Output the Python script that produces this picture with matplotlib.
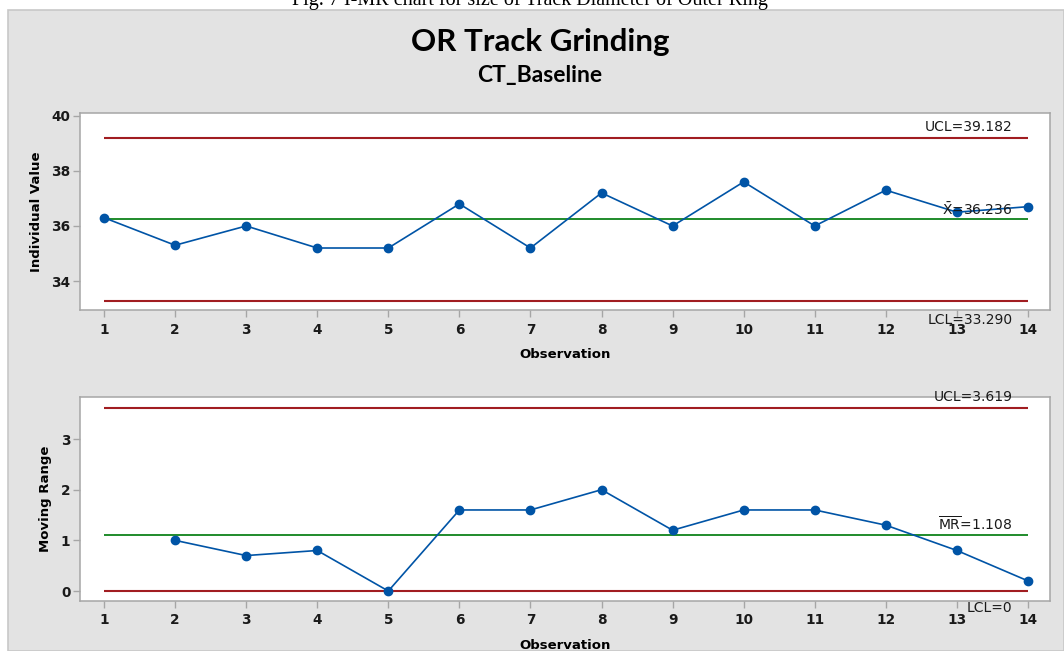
import matplotlib
matplotlib.use("Agg")
import matplotlib.pyplot as plt
from matplotlib.patches import Rectangle

# Track diameter readings (I chart) and their moving ranges (MR chart)
observations = list(range(1, 15))
individual_values = [36.3, 35.3, 36.0, 35.2, 35.2, 36.8, 35.2, 37.2, 36.0, 37.6, 36.0, 37.3, 36.5, 36.7]
mr_observations = list(range(2, 15))
moving_ranges = [1.0, 0.7, 0.8, 0.0, 1.6, 1.6, 2.0, 1.2, 1.6, 1.6, 1.3, 0.8, 0.2]

# Control limits
i_ucl, i_mean, i_lcl = 39.182, 36.236, 33.290
mr_ucl, mr_mean, mr_lcl = 3.619, 1.108, 0.0

i_yticks = [34, 36, 38, 40]
mr_yticks = [0, 1, 2, 3]

caption = "Fig. 7 I-MR chart for size of Track Diameter of Outer Ring"
title = "OR Track Grinding"
subtitle = "CT_Baseline"

RED = "#a11d21"
GREEN = "#1f8b2b"
BLUE = "#0054a6"
SPINE = "#a6a6a6"
PANEL = "#e3e3e3"

W, H = 1064, 651
fig = plt.figure(figsize=(W / 100, H / 100), dpi=100)
fig.patch.set_facecolor("white")

# grey worksheet panel behind both charts
fig.add_artist(Rectangle((8 / W, 0), 1 - 8 / W, 1 - 10 / H, transform=fig.transFigure,
                         facecolor=PANEL, edgecolor="#c8c8c8", linewidth=1.2, zorder=0))

fig.text(530 / W, 1 - 5 / H, caption, family="Liberation Serif", fontsize=14.5,
         ha="center", va="baseline")
fig.text(540 / W, 1 - 51 / H, title, family="Lato", fontweight="bold", fontsize=22.5,
         ha="center", va="baseline")
fig.text(540 / W, 1 - 82 / H, subtitle, family="Lato", fontweight="bold", fontsize=16.5,
         ha="center", va="baseline")


def px_axes(left, top, right, bottom):
    return fig.add_axes([left / W, 1 - bottom / H, (right - left) / W, (bottom - top) / H])


def style_axes(ax, yticks, ylabel):
    ax.set_facecolor("white")
    for s in ax.spines.values():
        s.set_color(SPINE)
        s.set_linewidth(1.1)
    ax.set_xticks(observations)
    ax.set_yticks(yticks)
    ax.tick_params(axis="both", colors=SPINE, length=5, width=1.0, labelcolor="#1a1a1a",
                   labelsize=9.8)
    ax.tick_params(axis="x", pad=4)
    ax.tick_params(axis="y", pad=2)
    for lbl in ax.get_xticklabels() + ax.get_yticklabels():
        lbl.set_fontweight("bold")
    ax.set_xlabel("Observation", fontsize=9.5, fontweight="bold", labelpad=8)
    ax.set_ylabel(ylabel, fontsize=9.5, fontweight="bold", labelpad=6)
    ax.set_xlim(0.662, 14.31)


def limit_label(ax, y, text, dy):
    ax.annotate(text, xy=(13.78, y), xytext=(0, dy), textcoords="offset points",
                ha="right", va="baseline", fontsize=10, color="#1a1a1a", zorder=10)


# Individual value chart
ax1 = px_axes(80, 113, 1050, 310)
style_axes(ax1, i_yticks, "Individual Value")
ax1.set_ylim(32.95, 40.1)
ax1.hlines([i_ucl, i_lcl], 1, 14, colors=RED, linewidth=1.5, zorder=2)
ax1.hlines(i_mean, 1, 14, colors=GREEN, linewidth=1.4, zorder=2)
ax1.plot(observations, individual_values, color=BLUE, linewidth=1.2, marker="o",
         markersize=6, markerfacecolor=BLUE, markeredgecolor=BLUE, zorder=3)
limit_label(ax1, i_ucl, f"UCL={i_ucl:.3f}", 5)
limit_label(ax1, i_mean, r"$\bar{\mathrm{X}}$" + f"={i_mean:.3f}", 3)
limit_label(ax1, i_lcl, f"LCL={i_lcl:.3f}", -16.5)

# Moving range chart
ax2 = px_axes(80, 397, 1050, 601)
style_axes(ax2, mr_yticks, "Moving Range")
ax2.set_ylim(-0.197, 3.83)
ax2.hlines([mr_ucl, mr_lcl], 1, 14, colors=RED, linewidth=1.5, zorder=2)
ax2.hlines(mr_mean, 1, 14, colors=GREEN, linewidth=1.4, zorder=2)
ax2.plot(mr_observations, moving_ranges, color=BLUE, linewidth=1.2, marker="o",
         markersize=6, markerfacecolor=BLUE, markeredgecolor=BLUE, zorder=3)
limit_label(ax2, mr_ucl, f"UCL={mr_ucl:.3f}", 4.5)
limit_label(ax2, mr_mean, r"$\overline{\mathrm{MR}}$" + f"={mr_mean:.3f}", 3)
limit_label(ax2, mr_lcl, f"LCL={mr_lcl:g}", -15)

fig.savefig("out.png", dpi=100)
